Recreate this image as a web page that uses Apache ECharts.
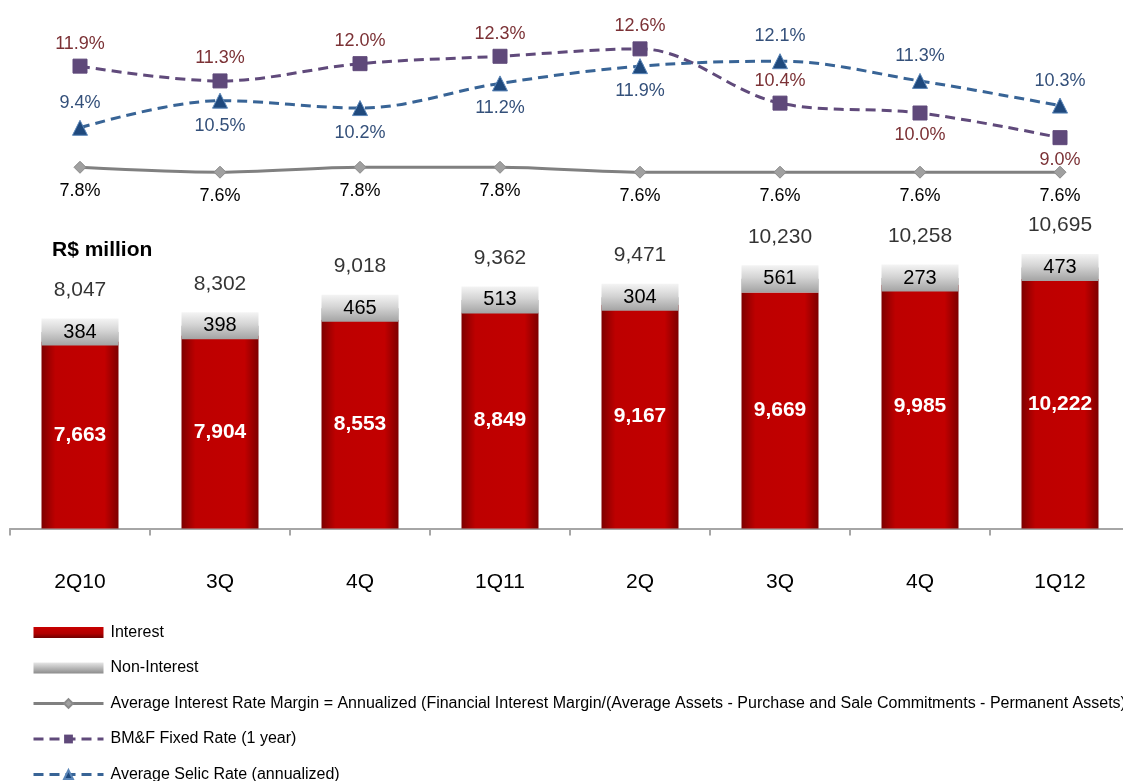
<!DOCTYPE html>
<html>
<head>
<meta charset="utf-8">
<script src="https://cdn.jsdelivr.net/npm/echarts@6/dist/echarts.min.js"></script>
<style>html,body{margin:0;padding:0;background:#fff;}#c{width:1123px;height:781px;}</style>
</head>
<body>
<div id="c"></div>
<script>
// ---- data ----
const categories = ['2Q10', '3Q', '4Q', '1Q11', '2Q', '3Q', '4Q', '1Q12'];
const interest = [7663, 7904, 8553, 8849, 9167, 9669, 9985, 10222];
const nonInterest = [384, 398, 465, 513, 304, 561, 273, 473];
const marginRate = [7.8, 7.6, 7.8, 7.8, 7.6, 7.6, 7.6, 7.6];
const fixedRate = [11.9, 11.3, 12.0, 12.3, 12.6, 10.4, 10.0, 9.0];
const selicRate = [9.4, 10.5, 10.2, 11.2, 11.9, 12.1, 11.3, 10.3];

// ---- label placement (style) ----
const fixedLabelPos = ['top', 'top', 'top', 'top', 'top', 'top', 'bottom', 'bottom'];
const selicLabelPos = ['top', 'bottom', 'bottom', 'bottom', 'bottom', 'top', 'top', 'top'];

const totals = interest.map((v, i) => v + nonInterest[i]);
const FONT = '"Liberation Sans", Arial, sans-serif';
const fmt = v => Number(v).toLocaleString('en-US');
const pct = v => Number(v).toFixed(1) + '%';

const marginName = 'Average Interest Rate Margin = Annualized (Financial Interest Margin/(Average Assets - Purchase and Sale Commitments - Permanent Assets)';
const fixedName = 'BM&F Fixed Rate (1 year)';
const selicName = 'Average Selic Rate (annualized)';

const redGrad = new echarts.graphic.LinearGradient(0, 0, 1, 0, [
  {offset: 0, color: '#7e0000'}, {offset: 0.18, color: '#bd0000'},
  {offset: 0.82, color: '#c20000'}, {offset: 1, color: '#7e0000'}]);
const grayGrad = new echarts.graphic.LinearGradient(0, 0, 0, 1, [
  {offset: 0, color: '#f4f4f4'}, {offset: 0.45, color: '#d4d4d4'}, {offset: 1, color: '#a3a3a3'}]);
const grayLegendGrad = new echarts.graphic.LinearGradient(0, 0, 0, 1, [
  {offset: 0, color: '#e6e6e6'}, {offset: 1, color: '#8c8c8c'}]);
const redLegendGrad = new echarts.graphic.LinearGradient(0, 0, 0, 1, [
  {offset: 0, color: '#c80000'}, {offset: 0.6, color: '#b00000'}, {offset: 1, color: '#6e0000'}]);

function lineData(vals, pos) {
  return vals.map((v, i) => ({value: v, label: {position: pos ? pos[i] : 'bottom'}}));
}

const chart = echarts.init(document.getElementById('c'), null, {renderer: 'canvas'});
chart.setOption({
  animation: false,
  backgroundColor: '#fff',
  textStyle: {fontFamily: FONT},
  title: {
    text: 'R$ million', left: 47, top: 235,
    textStyle: {fontFamily: FONT, fontSize: 21, fontWeight: 'bold', color: '#000'}
  },
  legend: {
    orient: 'vertical', left: 27, top: 619.5, height: 170, padding: 5,
    itemWidth: 70, itemHeight: 11, itemGap: 19.5,
    lineStyle: {width: 3},
    textStyle: {fontFamily: FONT, fontSize: 16, color: '#000', lineHeight: 16, padding: [0, 0, 0, 2]},
    data: [
      {name: 'Interest', icon: 'rect', itemStyle: {color: redLegendGrad}},
      {name: 'Non-Interest', icon: 'rect', itemStyle: {color: grayLegendGrad}},
      {name: marginName},
      {name: fixedName},
      {name: selicName}
    ]
  },
  grid: [
    {left: 10, right: -7, top: 238, bottom: 252.5, containLabel: false, outerBoundsMode: 'none'},
    {left: 10, right: -7, top: 39, height: 148, containLabel: false, outerBoundsMode: 'none'}
  ],
  xAxis: [
    {
      type: 'category', gridIndex: 0, data: categories,
      axisLine: {lineStyle: {color: '#a6a6a6', width: 2}},
      axisTick: {show: true, length: 7, lineStyle: {color: '#a6a6a6', width: 2}},
      axisLabel: {fontFamily: FONT, fontSize: 21, color: '#000', margin: 43}
    },
    {type: 'category', gridIndex: 1, data: categories, show: false}
  ],
  yAxis: [
    {type: 'value', gridIndex: 0, min: 0, max: 11900, show: false, splitLine: {show: false}},
    {type: 'value', gridIndex: 1, min: 7, max: 13, show: false, splitLine: {show: false}}
  ],
  series: [
    {
      name: 'Interest', type: 'bar', stack: 'total', xAxisIndex: 0, yAxisIndex: 0,
      barWidth: 77, data: interest,
      itemStyle: {color: redGrad},
      label: {show: true, position: 'inside', formatter: p => fmt(p.value),
        fontFamily: FONT, fontSize: 21, fontWeight: 'bold', color: '#fff'}
    },
    {
      name: 'Non-Interest', type: 'bar', stack: 'total', xAxisIndex: 0, yAxisIndex: 0,
      barWidth: 77, data: nonInterest,
      itemStyle: {color: '#a6a6a6'},
      label: {show: true, position: 'top', distance: 0, formatter: p => fmt(p.value),
        fontFamily: FONT, fontSize: 20, color: '#000',
        backgroundColor: grayGrad, width: 77, height: 24, lineHeight: 24,
        padding: [3, 0, 0, 0], align: 'center', verticalAlign: 'middle'}
    },
    {
      name: 'Total', type: 'scatter', xAxisIndex: 0, yAxisIndex: 0,
      data: totals, symbolSize: 1, itemStyle: {color: 'rgba(0,0,0,0)'},
      label: {show: true, position: 'top', distance: 31, formatter: p => fmt(p.value),
        fontFamily: FONT, fontSize: 21, color: '#000'},
      z: 5
    },
    {
      name: marginName, type: 'line', xAxisIndex: 1, yAxisIndex: 1,
      data: lineData(marginRate, null), smooth: 0.3,
      symbol: 'diamond', symbolSize: 12,
      lineStyle: {color: '#808080', width: 3},
      itemStyle: {color: '#a0a0a0', borderColor: '#8a8a8a', borderWidth: 1},
      label: {show: true, distance: 8, formatter: p => pct(p.value),
        fontFamily: FONT, fontSize: 18, color: '#000'},
      z: 3
    },
    {
      name: fixedName, type: 'line', xAxisIndex: 1, yAxisIndex: 1,
      data: lineData(fixedRate, fixedLabelPos), smooth: 0.35,
      symbol: 'rect', symbolSize: 14,
      lineStyle: {color: '#604a7b', width: 3, type: [10, 6]},
      itemStyle: {color: '#5f497a', borderColor: '#5f497a'},
      label: {show: true, distance: 6, formatter: p => pct(p.value),
        fontFamily: FONT, fontSize: 18, color: '#7b3135'},
      z: 4
    },
    {
      name: selicName, type: 'line', xAxisIndex: 1, yAxisIndex: 1,
      data: lineData(selicRate, selicLabelPos), smooth: 0.35,
      symbol: 'triangle', symbolSize: 15,
      lineStyle: {color: '#386496', width: 3, type: [10, 6]},
      itemStyle: {color: '#1f497d', borderColor: '#5b86b8', borderWidth: 1},
      label: {show: true, distance: 8, formatter: p => pct(p.value),
        fontFamily: FONT, fontSize: 18, color: '#34507a'},
      z: 4
    }
  ]
});
</script>
</body>
</html>
